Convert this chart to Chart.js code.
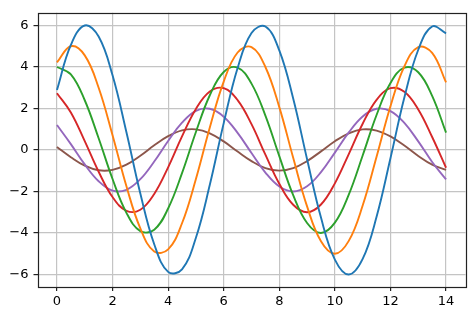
<!DOCTYPE html>
<html>
<head>
<meta charset="utf-8">
<script src="https://cdn.jsdelivr.net/npm/chart.js@4"></script>
<style>
  html, body { margin: 0; padding: 0; background: #fff; }
  #wrap { width: 474px; height: 318px; }
</style>
</head>
<body>
<div id="wrap"><canvas id="c" width="474" height="318"></canvas></div>
<script>
// x positions (step 0.5 from 0 to 14)
const xs = [0, 0.5, 1, 1.5, 2, 2.5, 3, 3.5, 4, 4.5, 5, 5.5, 6, 6.5, 7,
  7.5, 8, 8.5, 9, 9.5, 10, 10.5, 11, 11.5, 12, 12.5, 13, 13.5, 14];

// values
const blue = [2.88, 5.05, 5.99, 5.46, 3.59, 0.85, -2.10, -4.54, -5.87, -5.75, -4.23, -1.68, 1.29, 3.94, 5.63,
  5.94, 4.79, 2.47, -0.45, -3.26, -5.28, -6.00, -5.25, -3.22, -0.40, 2.52, 4.82, 5.94, 5.61];
const orange = [4.21, 4.99, 4.55, 2.99, 0.71, -1.75, -3.78, -4.89, -4.79, -3.53, -1.40, 1.08, 3.29, 4.69, 4.95,
  3.99, 2.06, -0.38, -2.72, -4.40, -5.00, -4.38, -2.68, -0.33, 2.10, 4.02, 4.95, 4.67, 3.25];
const green = [3.99, 3.64, 2.39, 0.56, -1.40, -3.03, -3.91, -3.84, -2.82, -1.12, 0.86, 2.63, 3.75, 3.96, 3.19,
  1.65, -0.30, -2.18, -3.52, -4.00, -3.50, -2.15, -0.27, 1.68, 3.22, 3.96, 3.74, 2.60, 0.83];
const red = [2.73, 1.80, 0.42, -1.05, -2.27, -2.93, -2.88, -2.12, -0.84, 0.65, 1.97, 2.81, 2.97, 2.40, 1.24,
  -0.23, -1.63, -2.64, -3.00, -2.63, -1.61, -0.20, 1.26, 2.41, 2.97, 2.80, 1.95, 0.62, -0.86];
const purple = [1.20, 0.28, -0.70, -1.51, -1.96, -1.92, -1.41, -0.56, 0.43, 1.31, 1.88, 1.98, 1.60, 0.82, -0.15,
  -1.09, -1.76, -2.00, -1.75, -1.07, -0.13, 0.84, 1.61, 1.98, 1.87, 1.30, 0.41, -0.58, -1.42];
const brown = [0.14, -0.35, -0.76, -0.98, -0.96, -0.71, -0.28, 0.22, 0.66, 0.94, 0.99, 0.80, 0.41, -0.08, -0.54,
  -0.88, -1.00, -0.88, -0.54, -0.07, 0.42, 0.80, 0.99, 0.93, 0.65, 0.21, -0.29, -0.71, -0.96];

const xTicks = [0, 2, 4, 6, 8, 10, 12, 14];
const yTicks = [-6, -4, -2, 0, 2, 4, 6];

const series = [blue, orange, green, red, purple, brown];
const colors = ['#1f77b4', '#ff7f0e', '#2ca02c', '#d62728', '#9467bd', '#8c564b'];

const toPoints = ys => ys.map((y, i) => ({ x: xs[i], y: y }));
const minus = v => String(v).replace('-', '\u2212');

// matplotlib-style box around the plot area
const frame = {
  id: 'frame',
  afterDraw(chart) {
    const a = chart.chartArea, ctx = chart.ctx;
    ctx.save();
    ctx.strokeStyle = '#222';
    ctx.lineWidth = 1.2;
    ctx.strokeRect(Math.round(a.left) + 0.5, Math.round(a.top) + 0.5,
      Math.round(a.right - a.left), Math.round(a.bottom - a.top));
    ctx.restore();
  }
};

Chart.defaults.font.family = '"DejaVu Sans", sans-serif';
Chart.defaults.font.size = 13;
Chart.defaults.color = '#000';

new Chart(document.getElementById('c'), {
  type: 'line',
  data: {
    datasets: series.map((s, i) => ({
      data: toPoints(s),
      borderColor: colors[i],
      borderWidth: 1.9,
      pointRadius: 0,
      tension: 0.4,
      fill: false,
    })),
  },
  options: {
    responsive: false,
    animation: false,
    layout: { padding: { left: 0, right: 8.5, top: 8.5, bottom: 0 } },
    plugins: { legend: { display: false }, tooltip: { enabled: false } },
    scales: {
      x: {
        type: 'linear',
        min: -0.7,
        max: 14.7,
        afterBuildTicks: ax => { ax.ticks = xTicks.map(v => ({ value: v })); },
        afterFit: ax => { ax.height = 31; },
        ticks: { callback: v => minus(v), padding: 3, maxRotation: 0 },
        grid: { color: '#c4c4c4', lineWidth: 1.2, tickLength: 4, tickColor: '#222' },
        border: { display: false },
      },
      y: {
        min: -6.6,
        max: 6.6,
        afterBuildTicks: ax => { ax.ticks = yTicks.map(v => ({ value: v })); },
        afterFit: ax => { ax.width = 37.5; },
        ticks: { callback: v => minus(v), padding: 5 },
        grid: { color: '#c4c4c4', lineWidth: 1.2, tickLength: 4, tickColor: '#222' },
        border: { display: false },
      },
    },
  },
  plugins: [frame],
});
</script>
</body>
</html>
